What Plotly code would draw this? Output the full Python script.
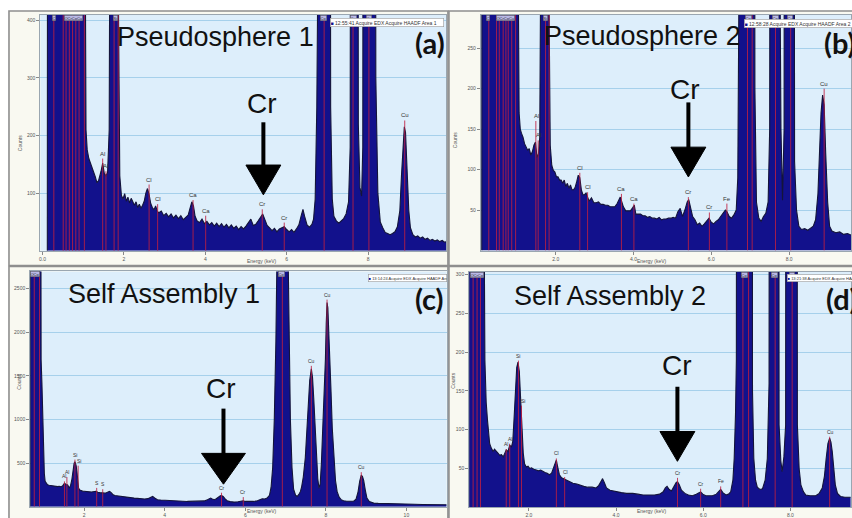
import plotly.graph_objects as go

W, H = 852, 518

# ---------------- spectrum (a) : Pseudosphere 1 ----------------
E_A = [0.12, 0.14, 1.00, 1.03, 1.07, 1.10, 1.14, 1.18, 1.22, 1.26, 1.30, 1.34, 1.38, 1.44, 1.48, 1.52,
       1.56, 1.60, 1.64, 1.67, 1.70, 1.84, 1.87, 1.90, 1.94, 1.98, 2.02, 2.06, 2.10, 2.14, 2.18, 2.22,
       2.26, 2.30, 2.34, 2.38, 2.42, 2.46, 2.50, 2.54, 2.58, 2.62, 2.66, 2.70, 2.74, 2.78, 2.82, 2.86,
       2.92, 2.98, 3.04, 3.10, 3.16, 3.22, 3.28, 3.34, 3.40, 3.46, 3.52, 3.58, 3.63, 3.67, 3.71, 3.75,
       3.80, 3.86, 3.92, 3.98, 4.04, 4.10, 4.16, 4.22, 4.28, 4.34, 4.40, 4.46, 4.52, 4.58, 4.64, 4.70,
       4.76, 4.82, 4.88, 4.94, 5.00, 5.06, 5.12, 5.18, 5.24, 5.30, 5.36, 5.41, 5.46, 5.52, 5.58, 5.64,
       5.70, 5.76, 5.82, 5.88, 5.94, 6.00, 6.06, 6.12, 6.18, 6.24, 6.30, 6.36, 6.40, 6.44, 6.50, 6.56,
       6.62, 6.66, 6.70, 6.74, 6.78, 7.04, 7.08, 7.12, 7.16, 7.22, 7.28, 7.34, 7.40, 7.46, 7.52, 7.56,
       7.60, 7.72, 7.76, 7.80, 7.84, 7.87, 7.90, 8.15, 8.19, 8.24, 8.30, 8.36, 8.42, 8.48, 8.54, 8.60,
       8.66, 8.72, 8.78, 8.82, 8.86, 8.89, 8.92, 8.96, 9.00, 9.04, 9.10, 9.16, 9.22, 9.28, 9.34, 9.40,
       9.46, 9.52, 9.58, 9.64, 9.70, 9.76, 9.82, 9.88, 9.93]
C_A = [0, 3000, 3000, 900, 210, 175, 160, 152, 145, 138, 128, 118, 122, 138, 152, 134,
       130, 136, 210, 900, 3000, 3000, 400, 130, 96, 90, 99, 86, 93, 83, 91, 85,
       79, 85, 75, 81, 74, 79, 86, 100, 108, 98, 82, 75, 71, 78, 69, 66,
       69, 61, 65, 59, 64, 57, 62, 56, 61, 54, 59, 62, 75, 85, 78, 60,
       52, 49, 55, 47, 51, 45, 49, 43, 48, 42, 47, 41, 46, 40, 45, 39,
       43, 37, 42, 38, 43, 50, 55, 44, 46, 52, 58, 64, 55, 44, 40, 35,
       39, 33, 38, 40, 42, 37, 33, 37, 32, 38, 45, 62, 72, 60, 45, 41,
       46, 55, 90, 250, 3000, 3000, 250, 90, 60, 52, 48, 52, 56, 64, 85, 180,
       3000, 3000, 220, 110, 95, 180, 3000, 3000, 300, 100, 50, 40, 32, 30, 28, 30,
       33, 42, 70, 130, 195, 215, 205, 140, 70, 40, 28, 24, 26, 22, 24, 20,
       22, 18, 20, 17, 19, 16, 18, 15, 16]

# ---------------- spectrum (b) : Pseudosphere 2 ----------------
E_B = [0.10, 0.12, 1.00, 1.03, 1.06, 1.09, 1.12, 1.16, 1.20, 1.24, 1.28, 1.32, 1.36, 1.40, 1.44, 1.48,
       1.52, 1.56, 1.59, 1.62, 1.64, 1.80, 1.83, 1.86, 1.90, 1.94, 1.98, 2.02, 2.06, 2.10, 2.14, 2.18,
       2.22, 2.26, 2.30, 2.34, 2.38, 2.42, 2.46, 2.50, 2.54, 2.58, 2.62, 2.66, 2.70, 2.74, 2.78, 2.82,
       2.86, 2.92, 2.98, 3.04, 3.10, 3.16, 3.22, 3.28, 3.34, 3.40, 3.46, 3.52, 3.58, 3.62, 3.66, 3.70,
       3.74, 3.80, 3.86, 3.92, 3.98, 4.02, 4.06, 4.12, 4.18, 4.24, 4.30, 4.36, 4.42, 4.48, 4.54, 4.60,
       4.66, 4.72, 4.78, 4.84, 4.90, 4.96, 5.02, 5.08, 5.14, 5.20, 5.26, 5.32, 5.38, 5.42, 5.46, 5.52,
       5.58, 5.64, 5.70, 5.76, 5.82, 5.88, 5.94, 6.00, 6.06, 6.12, 6.18, 6.24, 6.30, 6.36, 6.40, 6.46,
       6.52, 6.58, 6.64, 6.68, 6.72, 6.76, 7.08, 7.12, 7.16, 7.22, 7.28, 7.34, 7.40, 7.46, 7.50, 7.54,
       7.75, 7.79, 7.83, 7.87, 7.90, 8.10, 8.14, 8.19, 8.25, 8.32, 8.40, 8.48, 8.56, 8.62, 8.68, 8.74,
       8.78, 8.82, 8.86, 8.90, 8.94, 8.99, 9.04, 9.10, 9.20, 9.30, 9.40, 9.50, 9.60]
C_B = [0, 2000, 2000, 400, 170, 150, 145, 140, 132, 128, 124, 126, 118, 122, 130, 134,
       115, 120, 140, 400, 2000, 2000, 300, 130, 105, 99, 97, 91, 91, 87, 87, 83,
       87, 79, 83, 77, 81, 75, 75, 78, 85, 93, 90, 75, 69, 69, 71, 66,
       61, 65, 59, 59, 60, 57, 57, 56, 56, 54, 54, 54, 58, 62, 66, 60,
       54, 49, 49, 49, 53, 56, 45, 45, 45, 43, 43, 41, 42, 40, 40, 39,
       41, 38, 39, 39, 40, 40, 41, 40, 48, 52, 42, 50, 60, 63, 55, 42,
       38, 32, 34, 30, 33, 36, 40, 35, 33, 36, 38, 42, 46, 50, 48, 42,
       40, 44, 50, 90, 400, 2000, 2000, 200, 60, 40, 36, 42, 46, 60, 150, 2000,
       2000, 150, 62, 150, 2000, 2000, 110, 50, 30, 26, 27, 25, 28, 30, 38, 70,
       120, 170, 192, 180, 120, 60, 30, 24, 22, 23, 20, 21, 19]

# ---------------- spectrum (c) : Self Assembly 1 ----------------
E_C = [0.66, 0.68, 0.91, 0.93, 0.95, 0.97, 0.99, 1.01, 1.03, 1.06, 1.09, 1.13, 1.17, 1.21, 1.25, 1.29,
       1.34, 1.38, 1.42, 1.46, 1.51, 1.55, 1.59, 1.63, 1.66, 1.69, 1.72, 1.75, 1.77, 1.80, 1.82, 1.84,
       1.86, 1.89, 1.92, 1.96, 2.00, 2.04, 2.08, 2.13, 2.18, 2.24, 2.29, 2.34, 2.40, 2.46, 2.50, 2.55,
       2.60, 2.63, 2.67, 2.71, 2.76, 2.84, 2.92, 3.00, 3.07, 3.15, 3.24, 3.32, 3.41, 3.50, 3.58, 3.64,
       3.70, 3.75, 3.82, 3.90, 4.00, 4.10, 4.23, 4.35, 4.45, 4.56, 4.68, 4.80, 4.89, 4.98, 5.06, 5.11,
       5.14, 5.18, 5.23, 5.28, 5.34, 5.38, 5.41, 5.45, 5.50, 5.55, 5.62, 5.72, 5.82, 5.90, 5.95, 6.00,
       6.10, 6.21, 6.30, 6.37, 6.42, 6.48, 6.54, 6.60, 6.64, 6.68, 6.72, 6.76, 6.79, 7.06, 7.09, 7.12,
       7.16, 7.20, 7.25, 7.29, 7.33, 7.37, 7.40, 7.44, 7.49, 7.53, 7.56, 7.60, 7.64, 7.67, 7.70, 7.73,
       7.77, 7.80, 7.83, 7.86, 7.89, 7.93, 7.96, 7.99, 8.01, 8.03, 8.05, 8.07, 8.10, 8.13, 8.16, 8.20,
       8.24, 8.28, 8.33, 8.38, 8.44, 8.52, 8.60, 8.69, 8.75, 8.80, 8.84, 8.88, 8.91, 8.94, 8.98, 9.02,
       9.08, 9.14, 9.19, 9.30, 9.45, 9.60, 9.75, 9.85, 10.0, 10.2, 10.4, 10.6, 10.8, 11.0]
C_C = [0, 9000, 9000, 1690, 1420, 930, 550, 380, 290, 262, 250, 246, 242, 238, 236, 232,
       230, 234, 228, 236, 268, 255, 250, 215, 240, 300, 440, 500, 515, 470, 400, 300,
       215, 190, 181, 178, 176, 172, 174, 170, 168, 172, 176, 165, 158, 160, 155, 160,
       172, 176, 160, 140, 128, 122, 115, 110, 106, 102, 98, 95, 90, 88, 92, 105,
       117, 100, 80, 76, 72, 70, 68, 65, 62, 60, 60, 58, 60, 66, 80, 95,
       98, 88, 80, 90, 115, 125, 128, 118, 90, 68, 58, 52, 56, 62, 68, 60,
       58, 60, 68, 82, 90, 88, 98, 130, 220, 450, 1000, 1900, 3000, 3000, 1900, 1000,
       450, 200, 130, 117, 140, 175, 230, 340, 560, 850, 1120, 1450, 1580, 1480, 1240, 950,
       560, 320, 212, 260, 500, 930, 1300, 1700, 2100, 2340, 2280, 2070, 1700, 1310, 900, 550,
       300, 175, 110, 80, 68, 62, 60, 62, 85, 170, 290, 362, 345, 300, 190, 98,
       58, 44, 41, 38, 35, 33, 31, 30, 29, 27, 25, 24, 23, 22]

# ---------------- spectrum (d) : Self Assembly 2 ----------------
E_D = [0.62, 0.63, 0.95, 0.97, 0.99, 1.02, 1.05, 1.08, 1.10, 1.14, 1.18, 1.21, 1.25, 1.29, 1.33, 1.37,
       1.41, 1.45, 1.48, 1.52, 1.56, 1.60, 1.63, 1.66, 1.69, 1.72, 1.75, 1.78, 1.81, 1.84, 1.87, 1.90,
       1.94, 1.98, 2.02, 2.06, 2.11, 2.17, 2.22, 2.27, 2.32, 2.37, 2.42, 2.47, 2.52, 2.57, 2.60, 2.63,
       2.66, 2.70, 2.75, 2.82, 2.90, 3.01, 3.10, 3.18, 3.26, 3.35, 3.45, 3.54, 3.60, 3.66, 3.69, 3.73,
       3.78, 3.86, 4.00, 4.12, 4.24, 4.38, 4.50, 4.62, 4.75, 4.88, 5.00, 5.08, 5.13, 5.17, 5.22, 5.27,
       5.33, 5.38, 5.41, 5.45, 5.50, 5.58, 5.66, 5.75, 5.84, 5.90, 5.94, 5.99, 6.06, 6.14, 6.21, 6.30,
       6.37, 6.40, 6.45, 6.52, 6.58, 6.63, 6.68, 6.71, 6.74, 6.76, 6.79, 7.10, 7.13, 7.16, 7.20, 7.24,
       7.30, 7.36, 7.42, 7.47, 7.51, 7.54, 7.71, 7.74, 7.78, 7.81, 7.85, 7.89, 7.92, 8.12, 8.16, 8.20,
       8.24, 8.30, 8.35, 8.45, 8.58, 8.66, 8.73, 8.78, 8.82, 8.86, 8.90, 8.93, 8.96, 9.00, 9.03, 9.08,
       9.15, 9.25, 9.38]
C_D = [0, 3000, 3000, 400, 190, 135, 112, 90, 82, 76, 72, 75, 73, 70, 67, 68,
       65, 70, 74, 72, 80, 78, 85, 115, 150, 180, 187, 175, 140, 100, 70, 56,
       52, 53, 50, 51, 49, 48, 47, 48, 46, 45, 44, 42, 44, 53, 58, 61,
       52, 42, 38, 36, 34, 31, 30, 28, 27, 26, 26, 25, 28, 34, 37, 32,
       25, 22, 20, 19, 18, 18, 17, 16, 16, 16, 17, 20, 25, 27, 23, 21,
       27, 32, 33, 29, 22, 18, 16, 15, 17, 19, 20, 17, 15, 15, 15, 17,
       21, 23, 19, 16, 17, 20, 35, 63, 120, 190, 3000, 3000, 150, 63, 35, 26,
       23, 24, 35, 63, 160, 3000, 3000, 106, 60, 46, 65, 106, 3000, 3000, 106, 50,
       29, 20, 16, 15, 15, 18, 25, 40, 63, 82, 89, 84, 72, 45, 29, 18,
       14, 13, 13]

# ---------------- element marker lines (energy, top in counts) ----------------
LINE_E_A = [0.28, 0.51, 0.58, 0.66, 0.74, 0.82, 0.90, 1.03, 1.48, 1.56, 1.76, 1.86, 2.62, 2.83,
            3.70, 4.01, 5.40, 5.94, 6.92, 7.63, 8.02, 8.90]
LINE_H_A = [409, 409, 409, 409, 409, 409, 409, 409, 160, 138, 409, 409, 115, 81,
            88, 61, 72, 49, 409, 409, 409, 226]
LINE_E_B = [0.28, 0.48, 0.55, 0.65, 0.72, 0.78, 0.87, 0.97, 1.49, 1.55, 1.74, 1.83, 2.62, 2.82,
            3.69, 4.01, 5.41, 5.95, 6.40, 6.93, 7.05, 7.65, 8.04, 8.90]
LINE_H_B = [291, 291, 291, 291, 291, 291, 291, 291, 160, 136, 291, 291, 96, 72,
            70, 58, 66, 47, 58, 291, 291, 291, 291, 200]
LINE_E_C = [0.76, 0.89, 1.51, 1.57, 1.77, 1.85, 2.31, 2.46, 5.41, 5.95, 6.92, 7.64, 8.03, 8.88]
LINE_H_C = [2698, 2698, 290, 340, 540, 470, 215, 200, 160, 110, 2698, 1615, 2375, 395]
LINE_E_D = [0.72, 0.81, 0.89, 1.48, 1.56, 1.76, 1.83, 2.63, 2.82, 5.41, 5.94, 6.40, 6.91, 7.04,
            7.65, 8.04, 8.90]
LINE_H_D = [303, 303, 303, 75, 82, 189, 131, 63, 39, 38, 24, 27, 303, 303,
            303, 303, 91]

# ---------------- peak labels ----------------
LAB_T_A = ["Al", "Al", "Cl", "Cl", "Ca", "Ca", "Cr", "Cr", "Cu"]
LAB_E_A = [1.48, 1.56, 2.62, 2.83, 3.70, 4.01, 5.40, 5.94, 8.90]
LAB_Y_A = [160, 138, 115, 81, 88, 61, 72, 49, 226]
LAB_T_B = ["Al", "Al", "Cl", "Cl", "Ca", "Ca", "Cr", "Cr", "Fe", "Cu"]
LAB_E_B = [1.50, 1.55, 2.62, 2.82, 3.69, 4.01, 5.41, 5.95, 6.40, 8.90]
LAB_Y_B = [160, 136, 96, 72, 70, 58, 66, 47, 58, 200]
LAB_T_C = ["Al", "Al", "Si", "Si", "S", "S", "Cr", "Cr", "Cu", "Cu", "Cu"]
LAB_E_C = [1.51, 1.57, 1.77, 1.87, 2.31, 2.47, 5.41, 5.95, 7.64, 8.05, 8.89]
LAB_Y_C = [290, 340, 540, 470, 215, 200, 160, 110, 1615, 2375, 395]
LAB_T_D = ["Al", "Al", "Si", "Si", "Cl", "Cl", "Cr", "Cr", "Fe", "Cu"]
LAB_E_D = [1.48, 1.56, 1.76, 1.86, 2.63, 2.83, 5.41, 5.94, 6.40, 8.92]
LAB_Y_D = [75, 82, 189, 131, 63, 39, 38, 24, 27, 91]

# labels boxed at the top edge (clipped peaks)
TOP_T_A = ["C", "OCrCoCu", "Si", "Co", "Co", "Cu"]
TOP_E_A = [0.29, 0.76, 1.79, 6.91, 7.64, 8.02]
TOP_T_B = ["C", "OCrCoCu", "Si", "Co", "Co", "Cu"]
TOP_E_B = [0.26, 0.72, 1.73, 6.95, 7.65, 8.03]
TOP_T_C = ["OCo", "Co"]
TOP_E_C = [0.79, 6.90]
TOP_T_D = ["OCrCo", "Co", "Co", "Cu"]
TOP_E_D = [0.80, 6.95, 7.64, 8.04]

LEGEND_TXT = ["12:55:41 Acquire EDX Acquire HAADF Area 1",
              "12:58:28 Acquire EDX Acquire HAADF Area 2",
              "13:14:24 Acquire EDX Acquire HAADF Area 1",
              "13:21:38 Acquire EDX Acquire HAADF Area 2"]
TITLES = ["Pseudosphere 1", "Pseudosphere 2", "Self Assembly 1", "Self Assembly 2"]
LETTERS = ["(a)", "(b)", "(c)", "(d)"]

XT_A = [0, 2, 4, 6, 8];        XTT_A = ["0.0", "2", "4", "6", "8"]
YT_A = [100, 200, 300, 400]
XT_B = [2, 4, 6, 8];           XTT_B = ["2.0", "4.0", "6.0", "8.0"]
YT_B = [50, 100, 150, 200, 250]
XT_C = [2, 4, 6, 8, 10];       XTT_C = ["2", "4", "6", "8", "10"]
YT_C = [500, 1000, 1500, 2000, 2500]
XT_D = [2, 4, 6, 8];           XTT_D = ["2.0", "4.0", "6.0", "8.0"]
YT_D = [50, 100, 150, 200, 250, 300]

# ---------------- layout helpers ----------------
def px(x):
    return x / W


def py(y):
    return 1 - y / H


FILL = "#12118c"
PLOTBG = "#ddeefb"
GRID = "#a6d0eb"
SMALL = "Liberation Sans"

panels = [
    dict(E=E_A, C=C_A, LE=LINE_E_A, LH=LINE_H_A, LT=LAB_T_A, LX=LAB_E_A, LY=LAB_Y_A,
         TT=TOP_T_A, TE=TOP_E_A, xt=XT_A, xtt=XTT_A, yt=YT_A,
         box=(39.5, 14, 446.5, 251.3), xr=[-0.05, 9.925], yr=[0, 409], frame=(8, 10, 448, 266),
         title=(215, 36), letter=(413, 42), cr=(262, 103), arrow=(263, 122, 165, 195, 35),
         legend=(330, 22, 113, 5), counts=(14, 133), energy=(245, 262), lab=6, ttl=27),
    dict(E=E_B, C=C_B, LE=LINE_E_B, LH=LINE_H_B, LT=LAB_T_B, LX=LAB_E_B, LY=LAB_Y_B,
         TT=TOP_T_B, TE=TOP_E_B, xt=XT_B, xtt=XTT_B, yt=YT_B,
         box=(481, 14, 852, 251), xr=[0.077, 9.59], yr=[0, 291], frame=(449, 10, 870, 266),
         title=(643, 35), letter=(823, 42), cr=(686, 89), arrow=(689, 102, 147, 177, 35),
         legend=(745, 23, 118, 5), counts=(455, 130), energy=(670, 262), lab=6, ttl=27),
    dict(E=E_C, C=C_C, LE=LINE_E_C, LH=LINE_H_C, LT=LAB_T_C, LX=LAB_E_C, LY=LAB_Y_C,
         TT=TOP_T_C, TE=TOP_E_C, xt=XT_C, xtt=XTT_C, yt=YT_C,
         box=(29.3, 272, 446.7, 508.6), xr=[0.66, 11.0], yr=[0, 2698], frame=(8, 267, 448, 530),
         title=(163, 295), letter=(413, 299), cr=(221, 390), arrow=(223, 410, 455, 486, 44),
         legend=(368, 278.5, 78, 4), counts=(13, 393), energy=(245, 518), lab=5, ttl=27),
    dict(E=E_D, C=C_D, LE=LINE_E_D, LH=LINE_H_D, LT=LAB_T_D, LX=LAB_E_D, LY=LAB_Y_D,
         TT=TOP_T_D, TE=TOP_E_D, xt=XT_D, xtt=XTT_D, yt=YT_D,
         box=(469.3, 272.7, 852, 509.3), xr=[0.63, 9.39], yr=[0, 303], frame=(449, 267, 870, 530),
         title=(610, 297), letter=(825, 299), cr=(678, 367), arrow=(678, 388, 433, 463, 35),
         legend=(788, 278.5, 80, 4), counts=(453, 392), energy=(670, 518), lab=5, ttl=27),
]

fig = go.Figure()
shapes = []
annotations = []
layout_axes = {}

for i, p in enumerate(panels):
    n = "" if i == 0 else str(i + 1)
    xname, yname = "x" + n, "y" + n
    x0, y0, x1, y1 = p["box"]
    fx0, fy0, fx1, fy1 = p["frame"]
    # panel frame (software window background)
    shapes.append(dict(type="rect", xref="paper", yref="paper", layer="below",
                       x0=px(fx0), x1=px(fx1), y0=py(fy1), y1=py(fy0),
                       fillcolor="#f9f9f1", line=dict(color="#8e8e8e", width=1.6)))
    # plot area background
    shapes.append(dict(type="rect", xref="paper", yref="paper", layer="below",
                       x0=px(x0), x1=px(x1), y0=py(y1), y1=py(y0),
                       fillcolor=PLOTBG, line=dict(width=0)))

    layout_axes["xaxis" + n] = dict(
        domain=[px(x0), px(x1)], range=p["xr"], anchor=yname, tickmode="array",
        tickvals=p["xt"], ticktext=p["xtt"], showgrid=False, zeroline=False,
        showline=True, mirror=True, linecolor="#9aa6b0", linewidth=1,
        ticks="outside", ticklen=3, tickcolor="#888", tickfont=dict(size=5, color="#555", family=SMALL),
        fixedrange=True)
    layout_axes["yaxis" + n] = dict(
        domain=[py(y1), py(y0)], range=p["yr"], anchor=xname, tickmode="array",
        tickvals=p["yt"], showgrid=True, gridcolor=GRID, gridwidth=1, zeroline=False,
        showline=True, mirror=True, linecolor="#9aa6b0", linewidth=1,
        ticks="outside", ticklen=3, tickcolor="#888", tickfont=dict(size=5, color="#555", family=SMALL),
        fixedrange=True)

    # spectrum
    fig.add_trace(go.Scatter(x=p["E"], y=p["C"], mode="lines", fill="tozeroy",
                             fillcolor=FILL, line=dict(color="#14143a", width=1.1),
                             xaxis=xname, yaxis=yname, hoverinfo="skip"))
    # element lines
    lx, ly = [], []
    for e, h in zip(p["LE"], p["LH"]):
        lx += [e, e, None]
        ly += [0, min(h, p["yr"][1]), None]
    fig.add_trace(go.Scatter(x=lx, y=ly, mode="lines",
                             line=dict(color="rgba(190,30,65,0.85)", width=1),
                             xaxis=xname, yaxis=yname, hoverinfo="skip"))
    # peak labels
    for t, e, yv in zip(p["LT"], p["LX"], p["LY"]):
        annotations.append(dict(x=e, y=yv, xref=xname, yref=yname, text=t, showarrow=False,
                                yanchor="bottom", font=dict(size=p["lab"], color="#333", family=SMALL)))
    for t, e in zip(p["TT"], p["TE"]):
        annotations.append(dict(x=e, y=p["yr"][1], xref=xname, yref=yname, text=t, showarrow=False,
                                yanchor="top", bgcolor="#b9b9e6", bordercolor="#555", borderwidth=0.5,
                                borderpad=0, font=dict(size=4, color="#222", family=SMALL)))
    # big title
    tx, ty = p["title"]
    annotations.append(dict(x=px(tx), y=py(ty), xref="paper", yref="paper", text=TITLES[i],
                            showarrow=False, xanchor="center", yanchor="middle",
                            font=dict(size=p["ttl"], color="#111", family="Liberation Sans")))
    lx_, ly_ = p["letter"]
    annotations.append(dict(x=px(lx_), y=py(ly_), xref="paper", yref="paper", text="<b>" + LETTERS[i] + "</b>",
                            showarrow=False, xanchor="left", yanchor="middle",
                            font=dict(size=29, color="#111", family="Lato")))
    # Cr arrow
    cx, cy = p["cr"]
    annotations.append(dict(x=px(cx), y=py(cy), xref="paper", yref="paper", text="Cr",
                            showarrow=False, xanchor="center", yanchor="middle",
                            font=dict(size=28, color="#111", family="Liberation Sans")))
    ax, a_top, a_head, a_tip, a_w = p["arrow"]
    shapes.append(dict(type="line", xref="paper", yref="paper", x0=px(ax), x1=px(ax),
                       y0=py(a_top), y1=py(a_head + 2), line=dict(color="#000", width=4)))
    shapes.append(dict(type="path", xref="paper", yref="paper",
                       path="M %f,%f L %f,%f L %f,%f Z" % (px(ax - a_w / 2), py(a_head),
                                                           px(ax + a_w / 2), py(a_head),
                                                           px(ax), py(a_tip)),
                       fillcolor="#000", line=dict(color="#000", width=1)))
    # legend box
    gx, gy, gw, gs = p["legend"]
    annotations.append(dict(x=px(gx), y=py(gy), xref="paper", yref="paper",
                            text="<span style='color:%s'>■</span> %s" % (FILL, LEGEND_TXT[i]),
                            showarrow=False, xanchor="left", yanchor="middle", align="left",
                            width=gw, height=gs + 3, bgcolor="#ffffff", bordercolor="#9a9a9a",
                            borderwidth=0.6, borderpad=0, font=dict(size=gs, color="#333", family=SMALL)))
    # axis titles
    cx_, cy_ = p["counts"]
    annotations.append(dict(x=px(cx_), y=py(cy_), xref="paper", yref="paper", text="Counts",
                            showarrow=False, textangle=-90, font=dict(size=5, color="#555", family=SMALL)))
    ex, ey = p["energy"]
    annotations.append(dict(x=px(ex), y=py(ey), xref="paper", yref="paper", text="Energy (keV)",
                            showarrow=False, font=dict(size=5, color="#555", family=SMALL)))

fig.update_layout(
    width=W, height=H, margin=dict(l=0, r=0, t=0, b=0),
    paper_bgcolor="#ffffff", plot_bgcolor="rgba(0,0,0,0)",
    showlegend=False, shapes=shapes, annotations=annotations, **layout_axes)

fig.write_html("out.html")
